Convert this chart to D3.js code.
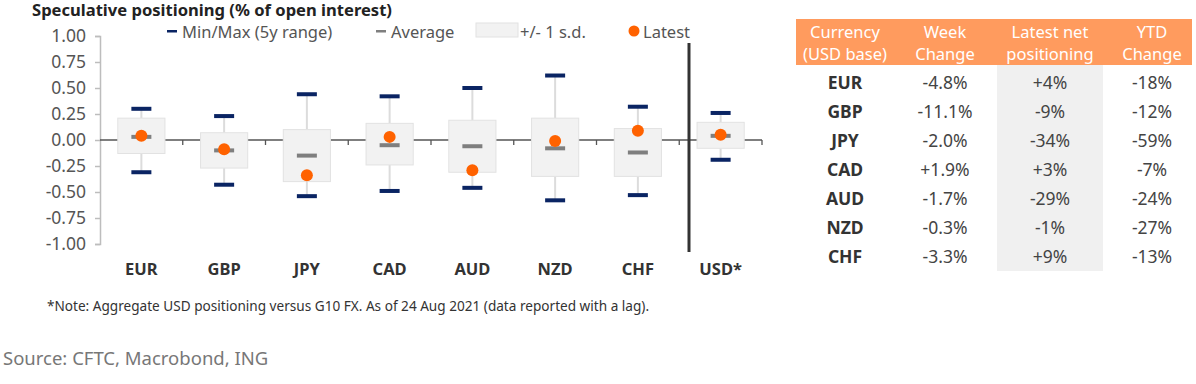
<!DOCTYPE html>
<html>
<head>
<meta charset="utf-8">
<script src="https://cdn.jsdelivr.net/npm/d3@7"></script>
<style>
  html, body { margin: 0; padding: 0; background: #fff; }
  svg { display: block; font-family: "Noto Sans", "Open Sans", sans-serif; }
</style>
</head>
<body>
<svg id="chart" width="1196" height="384"></svg>
<script>
// ---- Data ----
const categories = ["EUR", "GBP", "JPY", "CAD", "AUD", "NZD", "CHF", "USD*"];
const maxValues  = [0.30, 0.23, 0.44, 0.42, 0.50, 0.62, 0.32, 0.26];
const minValues  = [-0.31, -0.43, -0.54, -0.49, -0.46, -0.58, -0.53, -0.19];
const sdHigh     = [0.21, 0.07, 0.10, 0.16, 0.19, 0.21, 0.11, 0.17];
const sdLow      = [-0.13, -0.27, -0.40, -0.24, -0.31, -0.35, -0.35, -0.08];
const averages   = [0.03, -0.10, -0.15, -0.05, -0.06, -0.08, -0.12, 0.04];
const latest     = [0.04, -0.09, -0.34, 0.03, -0.29, -0.01, 0.09, 0.05];
const yTicks     = [1.00, 0.75, 0.50, 0.25, 0.00, -0.25, -0.50, -0.75, -1.00];

const tableHeaders    = [["Currency", "(USD base)"], ["Week", "Change"], ["Latest net", "positioning"], ["YTD", "Change"]];
const tableCurrencies = ["EUR", "GBP", "JPY", "CAD", "AUD", "NZD", "CHF"];
const weekChange      = ["-4.8%", "-11.1%", "-2.0%", "+1.9%", "-1.7%", "-0.3%", "-3.3%"];
const latestNet       = ["+4%", "-9%", "-34%", "+3%", "-29%", "-1%", "+9%"];
const ytdChange       = ["-18%", "-12%", "-59%", "-7%", "-24%", "-27%", "-13%"];

const titleText  = "Speculative positioning (% of open interest)";
const noteText   = "*Note: Aggregate USD positioning versus G10 FX. As of 24 Aug 2021 (data reported with a lag).";
const sourceText = "Source: CFTC, Macrobond, ING";

// ---- Setup ----
const svg = d3.select("#chart");
const navy = "#0a2463", orange = "#ff6200", avgGrey = "#7f7f7f";

const x = d3.scaleBand().domain(categories).range([100, 762]).padding(0);
const y = d3.scaleLinear().domain([-1, 1]).range([244, 36]);
const bw = x.bandwidth();
const boxW = bw * 0.57;
const capW = 20;

// Title
svg.append("text").attr("x", 32).attr("y", 16)
  .attr("font-size", 16).attr("font-weight", "bold").attr("fill", "#222")
  .attr("textLength", 360).attr("lengthAdjust", "spacingAndGlyphs")
  .text(titleText);

// Y axis
const yAxis = svg.append("g").attr("transform", "translate(100,0)")
  .call(d3.axisLeft(y).tickValues(yTicks).tickSize(5).tickPadding(9)
        .tickFormat(d => d3.format(".2f")(d).replace("\u2212", "-")));
yAxis.select(".domain").attr("stroke", "#bdbdbd").attr("stroke-width", 1.5);
yAxis.selectAll(".tick line").attr("stroke", "#bdbdbd").attr("stroke-width", 1.5);
yAxis.selectAll(".tick text").attr("font-size", 17.5).attr("fill", "#555")
  .attr("font-family", "Noto Sans, sans-serif");

// Zero line with category ticks
svg.append("line").attr("x1", 100).attr("x2", 762).attr("y1", y(0)).attr("y2", y(0))
  .attr("stroke", "#555").attr("stroke-width", 1.3);
const boundaries = categories.map(c => x(c) + bw);
svg.selectAll(".ctick").data(boundaries).join("line")
  .attr("x1", d => d).attr("x2", d => d).attr("y1", y(0)).attr("y2", y(0) + 5)
  .attr("stroke", "#555").attr("stroke-width", 1.3);

// Boxes
const g = svg.append("g");
categories.forEach((c, i) => {
  const cx = x(c) + bw / 2;
  g.append("line").attr("x1", cx).attr("x2", cx).attr("y1", y(maxValues[i])).attr("y2", y(sdHigh[i]))
    .attr("stroke", "#dcdcdc").attr("stroke-width", 2);
  g.append("line").attr("x1", cx).attr("x2", cx).attr("y1", y(sdLow[i])).attr("y2", y(minValues[i]))
    .attr("stroke", "#dcdcdc").attr("stroke-width", 2);
  g.append("rect").attr("x", cx - boxW / 2).attr("y", y(sdHigh[i]))
    .attr("width", boxW).attr("height", y(sdLow[i]) - y(sdHigh[i]))
    .attr("fill", "#f2f2f2").attr("stroke", "#e2e2e2").attr("stroke-width", 1);
  [maxValues[i], minValues[i]].forEach(v => {
    g.append("rect").attr("x", cx - capW / 2).attr("y", y(v) - 2).attr("width", capW).attr("height", 4)
      .attr("fill", navy);
  });
  g.append("rect").attr("x", cx - capW / 2).attr("y", y(averages[i]) - 2).attr("width", capW).attr("height", 4)
    .attr("fill", avgGrey);
  g.append("circle").attr("cx", cx).attr("cy", y(latest[i])).attr("r", 6).attr("fill", orange);
});

// Separator before USD*
svg.append("line").attr("x1", 689).attr("x2", 689).attr("y1", 43).attr("y2", 252)
  .attr("stroke", "#333").attr("stroke-width", 3);

// Category labels
svg.selectAll(".clabel").data(categories).join("text")
  .attr("x", d => x(d) + bw / 2).attr("y", 275).attr("text-anchor", "middle")
  .attr("font-size", 16.5).attr("font-weight", "bold").attr("fill", "#333")
  .text(d => d);

// Legend
const leg = svg.append("g").attr("font-size", 16.5).attr("fill", "#555");
leg.append("rect").attr("x", 167).attr("y", 30).attr("width", 10).attr("height", 2.5).attr("fill", navy);
leg.append("text").attr("x", 182).attr("y", 37.5).attr("fill", "#555").text("Min/Max (5y range)");
leg.append("rect").attr("x", 376).attr("y", 30).attr("width", 10).attr("height", 2.5).attr("fill", avgGrey);
leg.append("text").attr("x", 391).attr("y", 37.5).attr("fill", "#555").text("Average");
leg.append("rect").attr("x", 476).attr("y", 23).attr("width", 42).attr("height", 14)
  .attr("fill", "#f2f2f2").attr("stroke", "#e2e2e2");
leg.append("text").attr("x", 520).attr("y", 37.5).attr("fill", "#555").text("+/- 1 s.d.");
leg.append("circle").attr("cx", 634).attr("cy", 31).attr("r", 5.5).attr("fill", orange);
leg.append("text").attr("x", 643).attr("y", 37.5).attr("fill", "#555").text("Latest");

// Table
const colCenters = [845, 945, 1050, 1152];
const rowY0 = 83, rowStep = 29;
svg.append("rect").attr("x", 796).attr("y", 19).attr("width", 396).attr("height", 46).attr("fill", "#ff9b5e");
svg.append("rect").attr("x", 997).attr("y", 65).attr("width", 106).attr("height", 206).attr("fill", "#f0f0f0");
tableHeaders.forEach((h, j) => {
  h.forEach((line, k) => {
    svg.append("text").attr("x", colCenters[j]).attr("y", 38 + k * 22).attr("text-anchor", "middle")
      .attr("font-size", 16.5).attr("fill", "#fff").text(line);
  });
});
const cols = [tableCurrencies, weekChange, latestNet, ytdChange];
cols.forEach((col, j) => {
  svg.selectAll(".tc" + j).data(col).join("text")
    .attr("x", colCenters[j]).attr("y", (d, i) => rowY0 + i * rowStep + 6)
    .attr("text-anchor", "middle").attr("font-size", 17.5)
    .attr("font-weight", j === 0 ? "bold" : "normal")
    .attr("fill", j === 0 ? "#333" : "#444")
    .text(d => d);
});

// Note & source
svg.append("text").attr("x", 47).attr("y", 311).attr("font-size", 13.6).attr("fill", "#333")
  .text(noteText);
svg.append("text").attr("x", 3).attr("y", 365).attr("font-size", 18.5).attr("fill", "#777")
  .text(sourceText);
</script>
</body>
</html>
